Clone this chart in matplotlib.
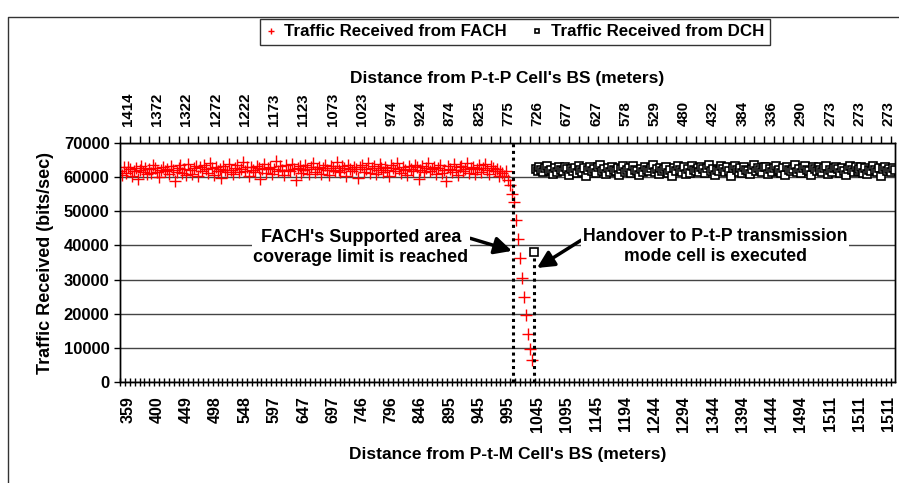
# Traffic received vs. distance from the P-t-M and P-t-P base stations
import matplotlib.pyplot as plt
from matplotlib.lines import Line2D
import numpy as np

plt.rcParams['font.family'] = ['Liberation Sans', 'DejaVu Sans']
plt.rcParams['font.weight'] = 'bold'

# bottom axis labels (distance from P-t-M cell's BS, meters)
ptm_labels = ['359', '400', '449', '498', '548', '597', '647', '697', '746', '796', '846', '895', '945',
              '995', '1045', '1095', '1145', '1194', '1244', '1294', '1344', '1394', '1444', '1494',
              '1511', '1511', '1511']
# top axis labels (distance from P-t-P cell's BS, meters)
ptp_labels = ['1414', '1372', '1322', '1272', '1222', '1173', '1123', '1073', '1023', '974', '924', '874',
              '825', '775', '726', '677', '627', '578', '529', '480', '432', '384', '336', '290',
              '273', '273', '273']

# traffic received from FACH (bits/sec), one value per sample
fach = [61800, 60500, 62900, 61200, 63100, 62400, 60200, 61900, 62700, 59600, 62100, 63400, 61500, 62800,
        60800, 62300, 61100, 63700, 62600, 61400, 59900, 62200, 63000, 61700, 62500, 60900, 63300, 62000,
        58900, 61600, 62800, 63600, 61300, 62400, 60600, 63900, 62100, 61000, 62700, 63200, 60400, 62900,
        61800, 63500, 62300, 61100, 64000, 62600, 60700, 63100, 61900, 62400, 59700, 63300, 62000, 61500,
        63800, 62200, 60900, 62800, 63600, 61400, 62500, 64300, 61700, 62900, 60300, 63000, 62100, 61600,
        63400, 62700, 59400, 62300, 63800, 61200, 62600, 63100, 60800, 62400, 64600, 61900, 63200, 62000,
        60600, 63500, 62200, 61800, 63900, 62500, 59200, 62800, 63300, 61300, 62100, 63700, 62400, 60900,
        62900, 64100, 61600, 62300, 63000, 61000, 62700, 63600, 62200, 60500, 63400, 62600, 61900, 64400,
        62000, 61400, 63200, 62800, 60200, 63700, 62400, 61700, 63100, 62500, 59800, 62900, 63500, 61600,
        62300, 64000, 61200, 62700, 63300, 60800, 62100, 63800, 62600, 61500, 63000, 62200, 60400, 63600,
        62800, 61900, 64200, 62400, 61100, 63100, 62000, 60700, 63400, 62500, 61800, 63700, 62900, 59500,
        62200, 63300, 61400, 62700, 64100, 61700, 62300, 63000, 60900, 62600, 63500, 61300, 62100, 58800,
        63200, 62500, 61600, 63800, 62000, 60600, 62900, 63400, 61900, 62400, 64000, 61200, 62800, 63100,
        60800, 62300, 63600, 61500, 62700, 63900, 62100, 61000, 63300, 62600, 61800, 62400, 60300, 61700,
        61200, 60400, 61800, 59300, 57600, 55200, 52800, 47500, 41800, 36200, 30500, 24800, 19500, 14200,
        9800, 6400]

# traffic received from DCH (bits/sec), starts right after the handover
dch = [38000,
       62400, 61800, 63100, 62000, 61500, 62700, 63300, 61900, 62200, 60900, 62600, 61400, 62900, 62100,
       61700, 63000, 62300, 60600, 62500, 61900, 62800, 61300, 63400, 62000, 61600, 62700, 60400, 62200,
       63100, 61800, 62400, 61200, 62900, 63500, 61700, 62300, 60800, 62600, 61500, 63000, 62100, 61900,
       62700, 60500, 62400, 63200, 61600, 62000, 62800, 61300, 63300, 62200, 61800, 60700, 62500, 61400,
       63000, 62100, 61700, 62600, 63600, 61500, 62300, 60900, 62800, 61900, 62400, 63100, 61200, 62000,
       60400, 62700, 61800, 63200, 62200, 61600, 62900, 60800, 62500, 61300, 63400, 62000, 61900, 62600,
       61500, 63000, 62300, 61100, 62800, 63700, 61800, 62400, 60600, 62100, 61700, 63200, 62500, 61400,
       62900, 61900, 60300, 62600, 63300, 62000, 61600, 62700, 61200, 63100, 62200, 61800, 60800, 62400,
       63500, 61700, 62800, 62100, 61400, 62900, 63000, 60900, 62300, 61600, 62700, 63400, 61900, 62200,
       61300, 62600, 60500, 63100, 62000, 61800, 62500, 63600, 61500, 62400, 61100, 62800, 63200, 62100,
       61700, 60700, 62900, 62300, 61900, 63000, 62200, 61400, 62600, 63300, 60900, 62000, 61600, 62700,
       63100, 62400, 61200, 62800, 61800, 60600, 62500, 63400, 62100, 61500, 62900, 61900, 62300, 63000,
       61300, 62600, 60800, 62200, 61700, 63200, 62000, 61600, 62700, 60300, 62400, 63100, 61900,
       62500, 61400, 62800, 62100]

coverage_limit_sample = 201.4   # FACH supported area limit
handover_sample = 212           # handover to P-t-P cell

fach_x = np.arange(len(fach))
dch_x = np.arange(len(dch)) + handover_sample

fig = plt.figure(figsize=(8.99, 4.83), dpi=100)
ax = fig.add_axes([120 / 899, 1 - 382 / 483, 775 / 899, 239 / 483])

ax.plot(fach_x, fach, linestyle='none', marker='+', color='red', markersize=8, mew=1.0,
        label='Traffic Received from FACH')
ax.plot(dch_x, dch, linestyle='none', marker='s', mfc='white', mec='black', markersize=6, mew=1.2,
        label='Traffic Received from DCH')

ax.axvline(coverage_limit_sample, ymin=0, ymax=1, color='black', linestyle=(0, (1, 1.2)), lw=2.2, zorder=4)
ax.plot([handover_sample, handover_sample], [0, 36500], color='black', linestyle=(0, (1, 1.2)), lw=2.2, zorder=4)

xmax = 397.2
ax.set_xlim(0, xmax)
ax.set_ylim(0, 70000)
ax.set_yticks(np.arange(0, 70001, 10000))
ax.yaxis.grid(True, color='#444444', lw=1)
ax.set_axisbelow(True)
ax.tick_params(axis='y', direction='out', length=4, labelsize=12, width=1)

label_pos = 4 + 15 * np.arange(len(ptm_labels))
ax.set_xticks(label_pos)
ax.set_xticklabels(ptm_labels, rotation=90, fontsize=11.5)
ax.set_xticks(np.arange(0, xmax, 2.5), minor=True)
ax.tick_params(axis='x', which='major', length=0, pad=10)
ax.tick_params(axis='x', which='minor', direction='inout', length=6, width=1)
ax.set_xlabel("Distance from P-t-M Cell's BS (meters)", fontsize=12.5, fontweight='bold', labelpad=11)
ax.set_ylabel('Traffic Received (bits/sec)', fontsize=13, fontweight='bold', labelpad=7)

top = ax.twiny()
top.set_xlim(0, xmax)
top.set_xticks(label_pos)
top.set_xticklabels(ptp_labels, rotation=90, fontsize=10.8)
top.set_xticks(np.arange(0, xmax, 5), minor=True)
top.tick_params(axis='x', which='major', length=0, pad=12)
top.tick_params(axis='x', which='minor', direction='out', length=5, width=1)
top.set_xlabel("Distance from P-t-P Cell's BS (meters)", fontsize=12.5, fontweight='bold', labelpad=7)

for a in (ax, top):
    for s in a.spines.values():
        s.set_color('black')
        s.set_linewidth(1)

# annotations
ax.annotate("FACH's Supported area\ncoverage limit is reached", xy=(200.9, 38400), xytext=(123.5, 39400),
            ha='center', va='center', fontsize=13, fontweight='bold', zorder=5,
            bbox=dict(boxstyle='square,pad=0.1', fc='white', ec='none'),
            arrowprops=dict(arrowstyle='-|>,head_length=0.8,head_width=0.4', color='black', lw=2.5,
                            shrinkA=0, shrinkB=0, relpos=(0.98, 0.8)))
ax.annotate("Handover to P-t-P transmission\nmode cell is executed", xy=(213.7, 33400), xytext=(305, 39700),
            ha='center', va='center', fontsize=12.7, fontweight='bold', zorder=5,
            bbox=dict(boxstyle='square,pad=0.1', fc='white', ec='none'),
            arrowprops=dict(arrowstyle='-|>,head_length=0.8,head_width=0.4', color='black', lw=2.5,
                            shrinkA=0, shrinkB=0, relpos=(0.0, 0.7)))

handles, labels = ax.get_legend_handles_labels()
leg = fig.legend(handles, labels, loc='center', bbox_to_anchor=(515 / 899, 1 - 32 / 483), ncol=2,
                 frameon=True, fancybox=False, edgecolor='black', handlelength=0.6,
                 handletextpad=0.5, columnspacing=1.5, borderpad=0.35, markerscale=0.6,
                 prop={'weight': 'bold', 'size': 12.2})
leg.get_frame().set_linewidth(1)

# chart area border
fig.add_artist(Line2D([8 / 899, 8 / 899, 1], [0, 1 - 17 / 483, 1 - 17 / 483], color='#333333', lw=1))

fig.savefig('out.png', dpi=100)
